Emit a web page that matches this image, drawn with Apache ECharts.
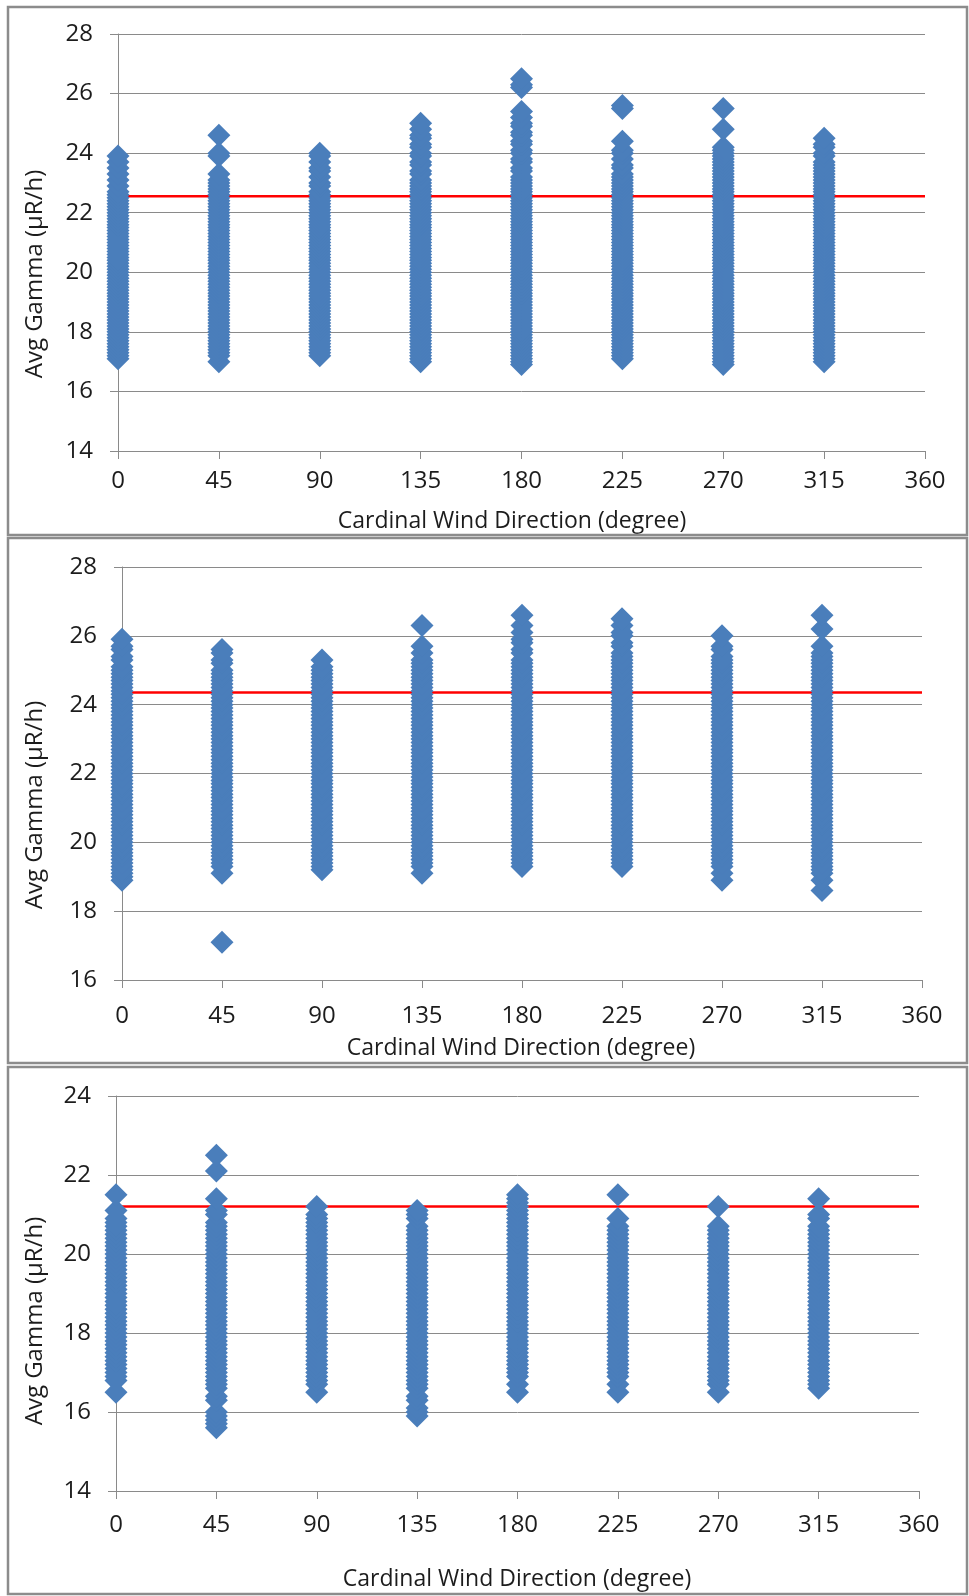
<!DOCTYPE html>
<html>
<head>
<meta charset="utf-8">
<script src="https://cdn.jsdelivr.net/npm/echarts@6/dist/echarts.min.js"></script>
<style>
  html, body { margin: 0; padding: 0; background: #fff; }
  #chart { width: 969px; height: 1596px; }
</style>
</head>
<body>
<div id="chart"></div>
<script>
// Cardinal wind directions (degrees) shared by all three panels
const directions = [0, 45, 90, 135, 180, 225, 270, 315];

// ---- Panel 1: average gamma readings per direction (µR/h) ----
const p1_000 = [
  17.1,17.2,17.3,17.4,17.5,17.6,17.7,17.8,17.9,
  18.0,18.1,18.2,18.3,18.4,18.5,18.6,18.7,18.8,18.9,
  19.0,19.1,19.2,19.3,19.4,19.5,19.6,19.7,19.8,19.9,
  20.0,20.1,20.2,20.3,20.4,20.5,20.6,20.7,20.8,20.9,
  21.0,21.1,21.2,21.3,21.4,21.5,21.6,21.7,21.8,21.9,
  22.0,22.1,22.2,22.3,22.4,22.5,22.6,22.7,
  22.9,23.1,23.3,23.5,23.7,23.9];
const p1_045 = [
  17.0,17.2,17.3,17.4,17.5,17.6,17.7,17.8,17.9,
  18.0,18.1,18.2,18.3,18.4,18.5,18.6,18.7,18.8,18.9,
  19.0,19.1,19.2,19.3,19.4,19.5,19.6,19.7,19.8,19.9,
  20.0,20.1,20.2,20.3,20.4,20.5,20.6,20.7,20.8,20.9,
  21.0,21.1,21.2,21.3,21.4,21.5,21.6,21.7,21.8,21.9,
  22.0,22.1,22.2,22.3,22.4,22.5,22.6,22.7,22.8,22.9,
  23.0,23.1,23.3,23.9,24.0,24.6];
const p1_090 = [
  17.2,17.3,17.4,17.5,17.6,17.7,17.8,17.9,
  18.0,18.1,18.2,18.3,18.4,18.5,18.6,18.7,18.8,18.9,
  19.0,19.1,19.2,19.3,19.4,19.5,19.6,19.7,19.8,19.9,
  20.0,20.1,20.2,20.3,20.4,20.5,20.6,20.7,20.8,20.9,
  21.0,21.1,21.2,21.3,21.4,21.5,21.6,21.7,21.8,21.9,
  22.0,22.1,22.2,22.3,22.4,22.5,22.6,22.7,
  22.9,23.0,23.2,23.4,23.5,23.7,23.9,24.0];
const p1_135 = [
  17.0,17.1,17.2,17.3,17.4,17.5,17.6,17.7,17.8,17.9,
  18.0,18.1,18.2,18.3,18.4,18.5,18.6,18.7,18.8,18.9,
  19.0,19.1,19.2,19.3,19.4,19.5,19.6,19.7,19.8,19.9,
  20.0,20.1,20.2,20.3,20.4,20.5,20.6,20.7,20.8,20.9,
  21.0,21.1,21.2,21.3,21.4,21.5,21.6,21.7,21.8,21.9,
  22.0,22.1,22.2,22.3,22.4,22.5,22.6,22.7,22.8,22.9,
  23.0,23.1,23.3,23.4,23.6,23.7,23.9,24.0,24.2,24.3,
  24.5,24.6,24.8,25.0];
const p1_180 = [
  16.9,17.0,17.1,17.2,17.3,17.4,17.5,17.6,17.7,17.8,17.9,
  18.0,18.1,18.2,18.3,18.4,18.5,18.6,18.7,18.8,18.9,
  19.0,19.1,19.2,19.3,19.4,19.5,19.6,19.7,19.8,19.9,
  20.0,20.1,20.2,20.3,20.4,20.5,20.6,20.7,20.8,20.9,
  21.0,21.1,21.2,21.3,21.4,21.5,21.6,21.7,21.8,21.9,
  22.0,22.1,22.2,22.3,22.4,22.5,22.6,22.7,22.8,22.9,
  23.0,23.1,23.2,23.4,23.5,23.7,23.8,24.0,24.1,24.3,
  24.4,24.6,24.7,24.9,25.0,25.2,25.4,26.2,26.3,26.5];
const p1_225 = [
  17.1,17.2,17.3,17.4,17.5,17.6,17.7,17.8,17.9,
  18.0,18.1,18.2,18.3,18.4,18.5,18.6,18.7,18.8,18.9,
  19.0,19.1,19.2,19.3,19.4,19.5,19.6,19.7,19.8,19.9,
  20.0,20.1,20.2,20.3,20.4,20.5,20.6,20.7,20.8,20.9,
  21.0,21.1,21.2,21.3,21.4,21.5,21.6,21.7,21.8,21.9,
  22.0,22.1,22.2,22.3,22.4,22.5,22.6,22.7,22.8,22.9,
  23.0,23.1,23.2,23.3,23.5,23.6,23.8,24.0,24.1,24.4,
  25.5,25.6];
const p1_270 = [
  16.9,17.0,17.1,17.2,17.3,17.4,17.5,17.6,17.7,17.8,17.9,
  18.0,18.1,18.2,18.3,18.4,18.5,18.6,18.7,18.8,18.9,
  19.0,19.1,19.2,19.3,19.4,19.5,19.6,19.7,19.8,19.9,
  20.0,20.1,20.2,20.3,20.4,20.5,20.6,20.7,20.8,20.9,
  21.0,21.1,21.2,21.3,21.4,21.5,21.6,21.7,21.8,21.9,
  22.0,22.1,22.2,22.3,22.4,22.5,22.6,22.7,22.8,22.9,
  23.0,23.1,23.2,23.3,23.4,23.5,23.6,23.7,23.8,23.9,
  24.0,24.1,24.2,24.8,25.5];
const p1_315 = [
  17.0,17.1,17.2,17.3,17.4,17.5,17.6,17.7,17.8,17.9,
  18.0,18.1,18.2,18.3,18.4,18.5,18.6,18.7,18.8,18.9,
  19.0,19.1,19.2,19.3,19.4,19.5,19.6,19.7,19.8,19.9,
  20.0,20.1,20.2,20.3,20.4,20.5,20.6,20.7,20.8,20.9,
  21.0,21.1,21.2,21.3,21.4,21.5,21.6,21.7,21.8,21.9,
  22.0,22.1,22.2,22.3,22.4,22.5,22.6,22.7,22.8,22.9,
  23.0,23.1,23.2,23.3,23.4,23.5,23.6,23.7,
  23.9,24.0,24.2,24.3,24.5];
const p1_mean = 22.55;

// ---- Panel 2 ----
const p2_000 = [
  18.9,
  19.0,19.1,19.2,19.3,19.4,19.5,19.6,19.7,19.8,19.9,
  20.0,20.1,20.2,20.3,20.4,20.5,20.6,20.7,20.8,20.9,
  21.0,21.1,21.2,21.3,21.4,21.5,21.6,21.7,21.8,21.9,
  22.0,22.1,22.2,22.3,22.4,22.5,22.6,22.7,22.8,22.9,
  23.0,23.1,23.2,23.3,23.4,23.5,23.6,23.7,23.8,23.9,
  24.0,24.1,24.2,24.3,24.4,24.5,24.6,24.7,24.8,24.9,
  25.0,25.1,25.3,25.4,25.6,25.7,25.9];
const p2_045 = [
  17.1,19.1,19.3,19.4,19.5,19.6,19.7,19.8,19.9,
  20.0,20.1,20.2,20.3,20.4,20.5,20.6,20.7,20.8,20.9,
  21.0,21.1,21.2,21.3,21.4,21.5,21.6,21.7,21.8,21.9,
  22.0,22.1,22.2,22.3,22.4,22.5,22.6,22.7,22.8,22.9,
  23.0,23.1,23.2,23.3,23.4,23.5,23.6,23.7,23.8,23.9,
  24.0,24.1,24.2,24.3,24.4,24.5,24.6,24.7,24.8,24.9,
  25.0,25.2,25.3,25.5,25.6];
const p2_090 = [
  19.2,19.3,19.4,19.5,19.6,19.7,19.8,19.9,
  20.0,20.1,20.2,20.3,20.4,20.5,20.6,20.7,20.8,20.9,
  21.0,21.1,21.2,21.3,21.4,21.5,21.6,21.7,21.8,21.9,
  22.0,22.1,22.2,22.3,22.4,22.5,22.6,22.7,22.8,22.9,
  23.0,23.1,23.2,23.3,23.4,23.5,23.6,23.7,23.8,23.9,
  24.0,24.1,24.2,24.3,24.4,24.5,24.6,24.7,24.8,24.9,
  25.0,25.1,25.3];
const p2_135 = [
  19.1,19.3,19.4,19.5,19.6,19.7,19.8,19.9,
  20.0,20.1,20.2,20.3,20.4,20.5,20.6,20.7,20.8,20.9,
  21.0,21.1,21.2,21.3,21.4,21.5,21.6,21.7,21.8,21.9,
  22.0,22.1,22.2,22.3,22.4,22.5,22.6,22.7,22.8,22.9,
  23.0,23.1,23.2,23.3,23.4,23.5,23.6,23.7,23.8,23.9,
  24.0,24.1,24.2,24.3,24.4,24.5,24.6,24.7,24.8,24.9,
  25.0,25.1,25.2,25.3,25.5,25.7,26.3];
const p2_180 = [
  19.3,19.4,19.5,19.6,19.7,19.8,19.9,
  20.0,20.1,20.2,20.3,20.4,20.5,20.6,20.7,20.8,20.9,
  21.0,21.1,21.2,21.3,21.4,21.5,21.6,21.7,21.8,21.9,
  22.0,22.1,22.2,22.3,22.4,22.5,22.6,22.7,22.8,22.9,
  23.0,23.1,23.2,23.3,23.4,23.5,23.6,23.7,23.8,23.9,
  24.0,24.1,24.2,24.3,24.4,24.5,24.6,24.7,24.8,24.9,
  25.0,25.1,25.2,25.3,25.5,25.6,25.8,25.9,26.1,26.3,26.6];
const p2_225 = [
  19.3,19.4,19.5,19.6,19.7,19.8,19.9,
  20.0,20.1,20.2,20.3,20.4,20.5,20.6,20.7,20.8,20.9,
  21.0,21.1,21.2,21.3,21.4,21.5,21.6,21.7,21.8,21.9,
  22.0,22.1,22.2,22.3,22.4,22.5,22.6,22.7,22.8,22.9,
  23.0,23.1,23.2,23.3,23.4,23.5,23.6,23.7,23.8,23.9,
  24.0,24.1,24.2,24.3,24.4,24.5,24.6,24.7,24.8,24.9,
  25.0,25.1,25.2,25.3,25.4,25.5,25.7,25.8,26.0,26.1,26.3,26.5];
const p2_270 = [
  18.9,19.1,19.3,19.4,19.5,19.6,19.7,19.8,19.9,
  20.0,20.1,20.2,20.3,20.4,20.5,20.6,20.7,20.8,20.9,
  21.0,21.1,21.2,21.3,21.4,21.5,21.6,21.7,21.8,21.9,
  22.0,22.1,22.2,22.3,22.4,22.5,22.6,22.7,22.8,22.9,
  23.0,23.1,23.2,23.3,23.4,23.5,23.6,23.7,23.8,23.9,
  24.0,24.1,24.2,24.3,24.4,24.5,24.6,24.7,24.8,24.9,
  25.0,25.1,25.2,25.3,25.4,25.6,25.7,26.0];
const p2_315 = [
  18.6,18.9,19.1,19.2,19.3,19.4,19.5,19.6,19.7,19.8,19.9,
  20.0,20.1,20.2,20.3,20.4,20.5,20.6,20.7,20.8,20.9,
  21.0,21.1,21.2,21.3,21.4,21.5,21.6,21.7,21.8,21.9,
  22.0,22.1,22.2,22.3,22.4,22.5,22.6,22.7,22.8,22.9,
  23.0,23.1,23.2,23.3,23.4,23.5,23.6,23.7,23.8,23.9,
  24.0,24.1,24.2,24.3,24.4,24.5,24.6,24.7,24.8,24.9,
  25.0,25.1,25.2,25.3,25.4,25.5,25.7,26.2,26.6];
const p2_mean = 24.35;

// ---- Panel 3 ----
const p3_000 = [
  16.5,16.8,16.9,
  17.0,17.1,17.2,17.3,17.4,17.5,17.6,17.7,17.8,17.9,
  18.0,18.1,18.2,18.3,18.4,18.5,18.6,18.7,18.8,18.9,
  19.0,19.1,19.2,19.3,19.4,19.5,19.6,19.7,19.8,19.9,
  20.0,20.1,20.2,20.3,20.4,20.5,20.6,
  20.7,20.8,20.9,21.1,21.5];
const p3_045 = [
  15.6,15.7,15.8,15.9,16.0,16.3,16.4,16.6,16.7,16.8,16.9,
  17.0,17.1,17.2,17.3,17.4,17.5,17.6,17.7,17.8,17.9,
  18.0,18.1,18.2,18.3,18.4,18.5,18.6,18.7,18.8,18.9,
  19.0,19.1,19.2,19.3,19.4,19.5,19.6,19.7,19.8,19.9,
  20.0,20.1,20.2,20.3,20.4,20.5,20.6,
  20.7,20.8,21.0,21.1,21.4,22.1,22.5];
const p3_090 = [
  16.5,16.7,16.8,16.9,
  17.0,17.1,17.2,17.3,17.4,17.5,17.6,17.7,17.8,17.9,
  18.0,18.1,18.2,18.3,18.4,18.5,18.6,18.7,18.8,18.9,
  19.0,19.1,19.2,19.3,19.4,19.5,19.6,19.7,19.8,19.9,
  20.0,20.1,20.2,20.3,20.4,20.5,20.6,20.7,20.8,20.9,
  21.0,21.2];
const p3_135 = [
  15.9,16.0,16.1,16.3,16.4,16.6,16.7,16.8,16.9,
  17.0,17.1,17.2,17.3,17.4,17.5,17.6,17.7,17.8,17.9,
  18.0,18.1,18.2,18.3,18.4,18.5,18.6,18.7,18.8,18.9,
  19.0,19.1,19.2,19.3,19.4,19.5,19.6,19.7,19.8,19.9,
  20.0,20.1,20.2,20.3,20.4,20.5,20.6,20.7,
  20.9,21.0,21.1];
const p3_180 = [
  16.5,16.7,16.9,
  17.0,17.1,17.2,17.3,17.4,17.5,17.6,17.7,17.8,17.9,
  18.0,18.1,18.2,18.3,18.4,18.5,18.6,18.7,18.8,18.9,
  19.0,19.1,19.2,19.3,19.4,19.5,19.6,19.7,19.8,19.9,
  20.0,20.1,20.2,20.3,20.4,20.5,20.6,20.7,20.8,20.9,
  21.0,21.1,21.2,21.3,21.4,21.5];
const p3_225 = [
  16.5,16.7,16.9,
  17.0,17.1,17.2,17.3,17.4,17.5,17.6,17.7,17.8,17.9,
  18.0,18.1,18.2,18.3,18.4,18.5,18.6,18.7,18.8,18.9,
  19.0,19.1,19.2,19.3,19.4,19.5,19.6,19.7,19.8,19.9,
  20.0,20.1,20.2,20.3,20.4,20.5,20.6,
  20.7,20.9,21.5];
const p3_270 = [
  16.5,16.7,16.8,16.9,
  17.0,17.1,17.2,17.3,17.4,17.5,17.6,17.7,17.8,17.9,
  18.0,18.1,18.2,18.3,18.4,18.5,18.6,18.7,18.8,18.9,
  19.0,19.1,19.2,19.3,19.4,19.5,19.6,19.7,19.8,19.9,
  20.0,20.1,20.2,20.3,20.4,20.5,20.6,20.7,
  21.2];
const p3_315 = [
  16.6,16.7,16.8,16.9,
  17.0,17.1,17.2,17.3,17.4,17.5,17.6,17.7,17.8,17.9,
  18.0,18.1,18.2,18.3,18.4,18.5,18.6,18.7,18.8,18.9,
  19.0,19.1,19.2,19.3,19.4,19.5,19.6,19.7,19.8,19.9,
  20.0,20.1,20.2,20.3,20.4,20.5,20.6,20.7,
  20.9,21.0,21.4];
const p3_mean = 21.2;

// y-axis ranges per panel
const yRanges = [
  { min: 14, max: 28 },
  { min: 16, max: 28 },
  { min: 14, max: 24 }
];

const panels = [
  { cols: [p1_000, p1_045, p1_090, p1_135, p1_180, p1_225, p1_270, p1_315], mean: p1_mean },
  { cols: [p2_000, p2_045, p2_090, p2_135, p2_180, p2_225, p2_270, p2_315], mean: p2_mean },
  { cols: [p3_000, p3_045, p3_090, p3_135, p3_180, p3_225, p3_270, p3_315], mean: p3_mean }
];

// ---- layout ----
const FONT = '"Open Sans", "DejaVu Sans", sans-serif';
const TEXT = '#1c1c1c';
const GRID_COLOR = '#8a8a8a';
const MARKER = '#4a7ebb';

const grids = [
  { left: 118, top: 34, width: 807, height: 417 },
  { left: 122, top: 567, width: 800, height: 413 },
  { left: 116, top: 1096, width: 803, height: 395 }
];
const xLabelMargin = [18, 24, 22];
const frames = [
  { y: 7, h: 528 },
  { y: 538, h: 525 },
  { y: 1067, h: 527 }
];
const xTitleY = [521, 1048, 1579];
const xTitleX = [512, 521, 517];
const yTitleY = [274, 805, 1321];

const option = {
  animation: false,
  backgroundColor: '#ffffff',
  textStyle: { fontFamily: FONT },
  grid: grids.map(g => Object.assign({ containLabel: false }, g)),
  xAxis: grids.map((g, i) => ({
    gridIndex: i,
    type: 'value',
    min: 0, max: 360, interval: 45,
    axisLine: { show: true, onZero: false, lineStyle: { color: GRID_COLOR, width: 1 } },
    axisTick: { show: true, inside: false, length: 8, lineStyle: { color: GRID_COLOR } },
    axisLabel: { fontSize: 24, color: TEXT, margin: xLabelMargin[i], fontFamily: FONT },
    splitLine: { show: false }
  })),
  yAxis: yRanges.map((r, i) => ({
    gridIndex: i,
    type: 'value',
    min: r.min, max: r.max, interval: 2,
    axisLine: { show: true, onZero: false, lineStyle: { color: GRID_COLOR, width: 1 } },
    axisTick: { show: true, inside: false, length: 8, lineStyle: { color: GRID_COLOR } },
    axisLabel: { fontSize: 24, color: TEXT, margin: 25, fontFamily: FONT },
    splitLine: { show: true, lineStyle: { color: GRID_COLOR, width: 1 } }
  })),
  series: [],
  graphic: []
};

panels.forEach((p, i) => {
  // mean reference line, drawn beneath the markers
  option.series.push({
    type: 'line',
    xAxisIndex: i, yAxisIndex: i,
    data: [[0, p.mean], [360, p.mean]],
    symbol: 'none',
    lineStyle: { color: '#ff0000', width: 2.5 },
    z: 1,
    silent: true
  });
  p.cols.forEach((vals, k) => {
    option.series.push({
      type: 'scatter',
      xAxisIndex: i, yAxisIndex: i,
      data: vals.map(v => [directions[k], v]),
      symbol: 'diamond',
      symbolSize: 23,
      itemStyle: { color: MARKER, opacity: 1 },
      z: 2,
      silent: true
    });
  });
});

// panel frames and axis titles
frames.forEach((f, i) => {
  option.graphic.push({
    type: 'rect',
    shape: { x: 8, y: f.y, width: 959, height: f.h },
    style: { fill: 'none', stroke: '#8c8c8c', lineWidth: 2.5 },
    silent: true, z: 100
  });
  option.graphic.push({
    type: 'text',
    x: xTitleX[i], y: xTitleY[i],
    style: {
      text: 'Cardinal Wind Direction (degree)',
      font: '23px ' + FONT, fill: TEXT,
      textAlign: 'center', textVerticalAlign: 'middle'
    },
    silent: true
  });
  option.graphic.push({
    type: 'text',
    x: 35, y: yTitleY[i],
    rotation: Math.PI / 2,
    style: {
      text: 'Avg Gamma (µR/h)',
      font: '24px ' + FONT, fill: TEXT,
      textAlign: 'center', textVerticalAlign: 'middle'
    },
    silent: true
  });
});

const chart = echarts.init(document.getElementById('chart'), null, { renderer: 'canvas' });
chart.setOption(option);
</script>
</body>
</html>
